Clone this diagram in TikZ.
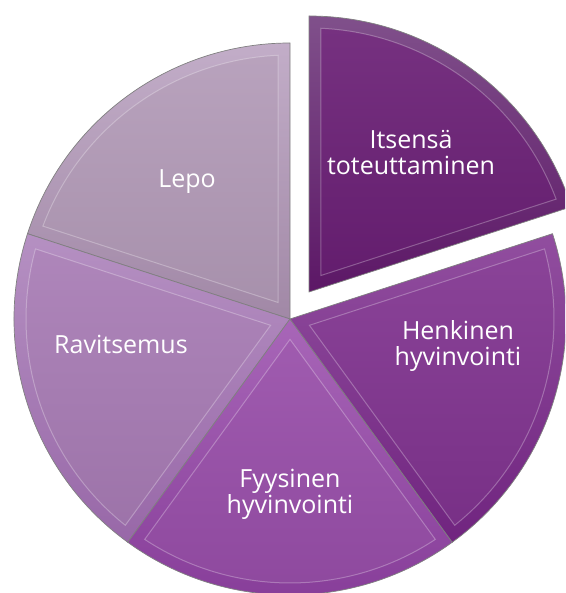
\documentclass[tikz,border=0pt]{standalone}
\usepackage{fontspec}
\setsansfont{Open Sans}
\usetikzlibrary{calc}

\definecolor{lepoTop}{HTML}{C2ADC8}
\definecolor{lepoBot}{HTML}{A188A6}
\definecolor{lepoIn}{HTML}{B29AB7}
\definecolor{ravTop}{HTML}{B590C2}
\definecolor{ravBot}{HTML}{9868A8}
\definecolor{ravIn}{HTML}{A77BB4}
\definecolor{fyyTop}{HTML}{A866B8}
\definecolor{fyyBot}{HTML}{863C98}
\definecolor{fyyIn}{HTML}{974DA8}
\definecolor{henTop}{HTML}{914E9F}
\definecolor{henBot}{HTML}{70247F}
\definecolor{henIn}{HTML}{80338F}
\definecolor{itsTop}{HTML}{80508B}
\definecolor{itsBot}{HTML}{5C1766}
\definecolor{itsIn}{HTML}{6A1F75}

\begin{document}
\begin{tikzpicture}[x=1pt, y=1pt,
    slice edge/.style={draw=black!50, line width=0.7pt},
    bevel edge/.style={draw=white, draw opacity=0.28, line width=1pt},
    slice label/.style={text=white, font=\sffamily\fontsize{25}{26}\selectfont,
        align=center, inner sep=0pt}
]

% radius of the pie and width of the bevel band
\def\rad{276}
\def\bev{12}

% ------------------------------------------------------------------------------
% 1. FRAME
% ------------------------------------------------------------------------------
\clip (0,0) rectangle (565,593);
\coordinate (centre) at (290,274);

% ------------------------------------------------------------------------------
% 2. SLICES (outer band + inner bevel face)
% ------------------------------------------------------------------------------
\foreach \from/\to/\dx/\dy/\tcol/\bcol/\icol in {
    90/162/0/0/lepoTop/lepoBot/lepoIn,
    162/234/0/0/ravTop/ravBot/ravIn,
    234/306/0/0/fyyTop/fyyBot/fyyIn,
    306/378/0/0/henTop/henBot/henIn,
    18/90/19/27/itsTop/itsBot/itsIn} {
    \pgfmathsetmacro{\midang}{(\from+\to)/2}
    \begin{scope}[shift={($(centre)+(\dx,\dy)$)}]
        \shade[top color=\tcol, bottom color=\bcol, slice edge]
            (0,0) -- (\from:\rad)
            arc[start angle=\from, end angle=\to, radius=\rad] -- cycle;
        \shade[top color=\icol!92!white, bottom color=\icol!94!black, bevel edge]
            (\midang:20.4) -- (\from+2.6:\rad-\bev)
            arc[start angle=\from+2.6, end angle=\to-2.6, radius=\rad-\bev] -- cycle;
    \end{scope}
}

% ------------------------------------------------------------------------------
% 3. LABELS
% ------------------------------------------------------------------------------
\node[slice label] (lepo) at (187,411) {Lepo};
\node[slice label] (itsensa) at (411,440) {Itsensä\\toteuttaminen};
\node[slice label] (henkinen) at (458,247) {Henkinen\\hyvinvointi};
\node[slice label] (ravitsemus) at (121,249) {Ravitsemus};
\node[slice label] (fyysinen) at (290,99) {Fyysinen\\hyvinvointi};

\end{tikzpicture}
\end{document}
